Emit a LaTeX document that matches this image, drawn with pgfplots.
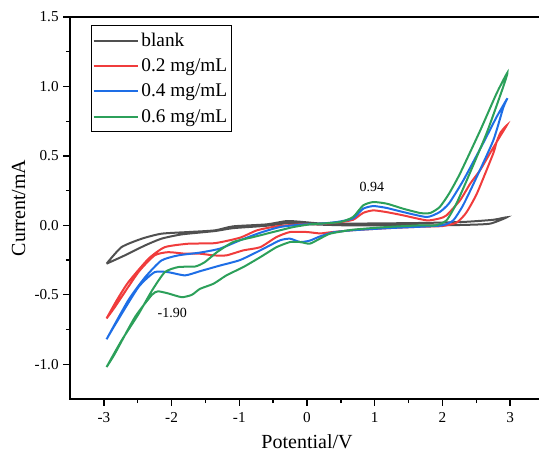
\documentclass[border=0pt]{standalone}
\usepackage{pgfplots}
\pgfplotsset{compat=1.18}
\usepackage{fontspec}
\setmainfont{Liberation Serif}
\definecolor{cgray}{RGB}{80,80,80}
\definecolor{cred}{RGB}{240,60,60}
\definecolor{cblue}{RGB}{30,110,230}
\definecolor{cgreen}{RGB}{44,160,90}
\begin{document}
\begin{tikzpicture}
\useasboundingbox (-52.5pt,-43.5pt) rectangle (351.75pt,299.25pt);
\begin{axis}[
  at={(0pt,0pt)}, anchor=south west,
  scale only axis, width=355.5pt, height=286.5pt,
  xmin=-3.5, xmax=3.5, ymin=-1.25, ymax=1.5,
  xtick={-3,-2,-1,0,1,2,3}, xticklabels={-3,-2,-1,0,1,2,3},
  ytick={-1,-0.5,0,0.5,1,1.5}, yticklabels={-1.0,-0.5,0.0,0.5,1.0,1.5},
  minor x tick num=1, minor y tick num=1,
  tick align=outside, xtick pos=lower, ytick pos=left,
  major tick length=5pt, minor tick length=3pt,
  axis line style={line width=1.1pt},
  every tick/.style={line width=1pt, black},
  tick label style={font=\fontsize{11.4}{13}\selectfont},
  xticklabel style={yshift=-1.5pt},
  label style={font=\fontsize{15}{18}\selectfont},
  xlabel style={yshift=-2pt},
  xlabel={Potential/V}, ylabel={Current/mA},
  legend style={at={(0.044,0.979)}, anchor=north west, draw=black, line width=0.8pt,
    font=\fontsize{14.5}{17}\selectfont, inner xsep=1pt, inner ysep=3.5pt, row sep=3.8pt},
  legend cell align=left,
  legend image code/.code={\draw[#1] (0pt,0pt) -- (33pt,0pt);},
  every axis plot/.append style={line width=1.5pt, smooth, tension=0.35},
]
\addplot[cgray] coordinates {
(-2.96,-0.276) (-2.74,-0.157) (-2.44,-0.096) (-2.15,-0.06) (-1.75,-0.048) (-1.36,-0.036)
(-1.09,-0.007) (-0.6,0.007) (-0.3,0.031) (-0.1,0.026) (0.19,0.014) (0.6,0.012) (1.0,0.014)
(1.5,0.016) (2.0,0.02) (2.36,0.026) (2.75,0.04) (2.95,0.058)
(2.7,0.012) (2.3,0.003) (1.8,0.0) (1.2,0.0) (0.6,0.0) (0.2,0.005) (-0.1,0.012) (-0.3,0.015)
(-0.6,-0.003) (-1.09,-0.02) (-1.36,-0.041) (-1.85,-0.065) (-2.15,-0.096) (-2.39,-0.144)
(-2.69,-0.216) (-2.96,-0.276)};
\addlegendentry{blank}
\addplot[cred] coordinates {
(-2.96,-0.67) (-2.81,-0.54) (-2.64,-0.41) (-2.34,-0.24) (-2.10,-0.157) (-1.75,-0.132) (-1.36,-0.128)
(-0.99,-0.089) (-0.74,-0.036) (-0.45,-0.007) (-0.10,0.007) (0.19,0.01) (0.45,0.02) (0.68,0.04)
(0.83,0.09) (0.98,0.108) (1.18,0.095) (1.42,0.072) (1.77,0.036) (1.96,0.05) (2.06,0.072)
(2.26,0.18) (2.41,0.30) (2.56,0.40) (2.70,0.517) (2.85,0.64) (2.95,0.72)
(2.86,0.67) (2.80,0.60) (2.75,0.517) (2.51,0.23) (2.35,0.09) (2.21,0.02) (2.0,-0.005)
(1.67,-0.01) (1.2,-0.02) (0.68,-0.035) (0.34,-0.05) (0.19,-0.058) (0,-0.048) (-0.25,-0.048)
(-0.45,-0.084) (-0.69,-0.157) (-0.94,-0.18) (-1.19,-0.216) (-1.38,-0.216) (-1.58,-0.204)
(-1.80,-0.204) (-2.05,-0.193) (-2.25,-0.216) (-2.49,-0.337) (-2.84,-0.59) (-2.96,-0.67)};
\addlegendentry{0.2 mg/mL}
\addplot[cblue] coordinates {
(-2.96,-0.82) (-2.64,-0.54) (-2.39,-0.373) (-2.15,-0.253) (-1.90,-0.216) (-1.58,-0.196)
(-1.29,-0.168) (-0.99,-0.108) (-0.69,-0.053) (-0.40,-0.012) (-0.10,0.005) (0.19,0.012)
(0.45,0.025) (0.68,0.05) (0.83,0.12) (0.98,0.139) (1.18,0.125) (1.42,0.096) (1.77,0.06)
(1.96,0.096) (2.10,0.16) (2.31,0.325) (2.60,0.59) (2.80,0.78) (2.96,0.915)
(2.90,0.85) (2.75,0.61) (2.46,0.30) (2.30,0.14) (2.16,0.036) (2.0,0.0) (1.67,-0.01)
(1.2,-0.02) (0.68,-0.035) (0.39,-0.05) (0.19,-0.08) (0.04,-0.11) (-0.10,-0.12) (-0.25,-0.096)
(-0.40,-0.108) (-0.69,-0.18) (-0.99,-0.25) (-1.29,-0.29) (-1.58,-0.33) (-1.80,-0.36)
(-2.05,-0.337) (-2.25,-0.337) (-2.49,-0.445) (-2.84,-0.72) (-2.96,-0.82)};
\addlegendentry{0.4 mg/mL}
\addplot[cgreen] coordinates {
(-2.96,-1.02) (-2.74,-0.83) (-2.49,-0.64) (-2.29,-0.47) (-2.10,-0.337) (-1.90,-0.30)
(-1.65,-0.296) (-1.51,-0.265) (-1.33,-0.193) (-1.09,-0.12) (-0.79,-0.084) (-0.50,-0.048)
(-0.20,-0.012) (0.04,0.007) (0.19,0.012) (0.49,0.024) (0.68,0.06) (0.83,0.144) (0.98,0.168)
(1.18,0.156) (1.42,0.12) (1.67,0.089) (1.82,0.089) (1.96,0.132) (2.10,0.23) (2.26,0.373)
(2.56,0.685) (2.80,0.95) (2.96,1.10)
(2.90,1.0) (2.65,0.66) (2.36,0.325) (2.20,0.15) (2.06,0.036) (1.9,0.0) (1.67,0.0)
(1.18,-0.012) (0.68,-0.031) (0.34,-0.06) (0.19,-0.096) (0.04,-0.132) (-0.10,-0.12)
(-0.25,-0.12) (-0.45,-0.157) (-0.69,-0.229) (-0.94,-0.30) (-1.19,-0.36) (-1.38,-0.42)
(-1.58,-0.457) (-1.70,-0.50) (-1.85,-0.517) (-2.05,-0.49) (-2.2,-0.475) (-2.29,-0.50)
(-2.54,-0.66) (-2.84,-0.926) (-2.96,-1.02)};
\addlegendentry{0.6 mg/mL}
\node[font=\fontsize{10.5}{12}\selectfont] at (axis cs:0.96,0.274) {0.94};
\node[font=\fontsize{10.5}{12}\selectfont] at (axis cs:-1.99,-0.63) {-1.90};
\end{axis}
\end{tikzpicture}
\end{document}
